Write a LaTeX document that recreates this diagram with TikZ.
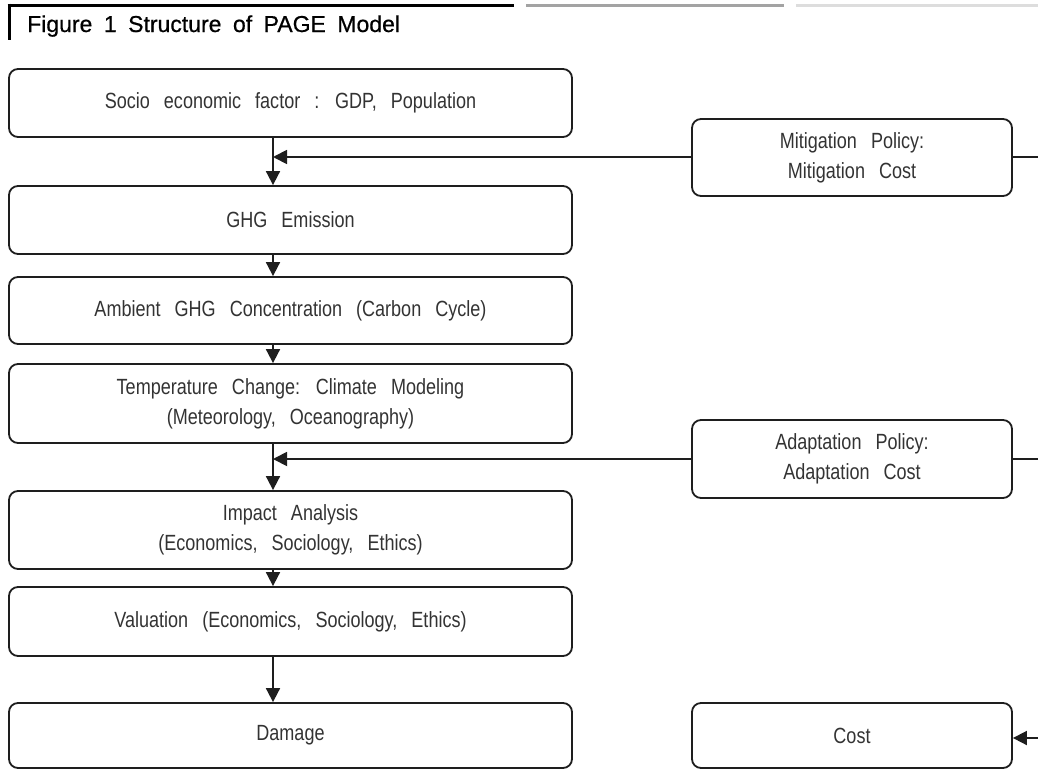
\documentclass[tikz,border=0pt]{standalone}
\usepackage{fontspec}
\setmainfont[FakeStretch=0.82,WordSpace=2.8]{Liberation Sans}
\newfontfamily\titlefont[WordSpace=1.8,FakeBold=0.6]{Liberation Sans}
\usetikzlibrary{arrows.meta}
\definecolor{linec}{HTML}{1E1E1E}
\definecolor{textc}{HTML}{333333}
\definecolor{midgray}{HTML}{A3A3A3}
\definecolor{lightgray}{HTML}{DDDDDD}
\begin{document}
\begin{tikzpicture}[x=1pt,y=-1pt,
  box/.style={draw=linec,line width=1.8pt,rounded corners=9pt,rectangle,
    align=center,text=textc,font=\fontsize{22}{30}\selectfont,inner sep=0pt},
  lbox/.style={box,minimum width=563pt},
  rbox/.style={box,minimum width=320pt},
  flow/.style={draw=linec,line width=1.8pt,-{Triangle[width=14pt,length=14pt]}},
  plain/.style={draw=linec,line width=1.8pt}
]
\useasboundingbox (0,0) rectangle (1038,771);
% header
\draw[line width=3pt,black] (7.5,5) -- (514,5);
\draw[line width=3pt,black] (9,3.5) -- (9,40);
\draw[line width=3pt,midgray] (526,5) -- (784,5);
\draw[line width=3pt,lightgray] (796,5) -- (1038,5);
\node[anchor=base west,inner sep=0pt,font=\titlefont\fontsize{23}{28}\selectfont,text=black] (title) at (27,32) {Figure 1 Structure of PAGE Model};

% left column
\node[lbox,minimum height=68pt] (b1) at (290.5,103) {Socio economic factor : GDP, Population};
\node[lbox,minimum height=68pt] (b2) at (290.5,220) {GHG Emission};
\node[lbox,minimum height=67pt] (b3) at (290.5,310.5) {Ambient GHG Concentration (Carbon Cycle)};
\node[lbox,minimum height=79pt] (b4) at (290.5,403.5) {Temperature Change: Climate Modeling\\(Meteorology, Oceanography)};
\node[lbox,minimum height=78pt] (b5) at (290.5,530) {Impact Analysis\\(Economics, Sociology, Ethics)};
\node[lbox,minimum height=69pt] (b6) at (290.5,621.5) {Valuation (Economics, Sociology, Ethics)};
\node[lbox,minimum height=65pt] (b7) at (290.5,735.5) {Damage};

% right column
\node[rbox,minimum height=77pt] (mit) at (852,157.5) {Mitigation Policy:\\Mitigation Cost};
\node[rbox,minimum height=78pt] (ada) at (852,459) {Adaptation Policy:\\Adaptation Cost};
\node[rbox,minimum height=65pt] (cost) at (852,735.5) {Cost};

% junction points on the main axis
\coordinate (j1) at (273,157);
\coordinate (j2) at (273,459);
\coordinate (m1) at (1038,157);
\coordinate (m2) at (1038,459);
\coordinate (m3) at (1038,738);

% vertical flow
\draw[flow] (b1.south -| j1) -- (b2.north -| j1);
\draw[flow] (b2.south -| j1) -- (b3.north -| j1);
\draw[flow] (b3.south -| j1) -- (b4.north -| j1);
\draw[flow] (b4.south -| j2) -- (b5.north -| j2);
\draw[flow] (b5.south -| j2) -- (b6.north -| j2);
\draw[flow] (b6.south -| j2) -- (b7.north -| j2);

% policy inputs
\draw[flow] (mit.west |- j1) -- (j1);
\draw[flow] (ada.west |- j2) -- (j2);
\draw[plain] (mit.east |- m1) -- (m1);
\draw[plain] (ada.east |- m2) -- (m2);
\draw[flow] (m3) -- (cost.east |- m3);
\end{tikzpicture}
\end{document}
